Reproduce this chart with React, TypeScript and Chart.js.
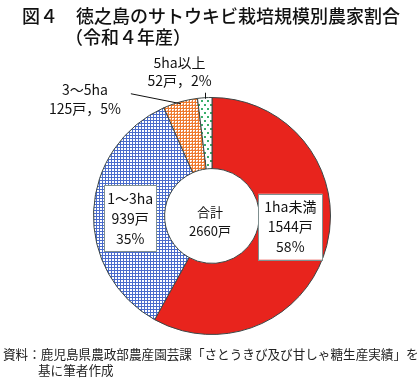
import React, { useEffect, useRef } from 'react';
import { Chart, registerables } from 'chart.js';
Chart.register(...registerables);

const categories = ['1ha未満', '1～3ha', '3～5ha', '5ha以上'];
const farms = [1544, 939, 125, 52];
const shares = ['58%', '35%', '5%', '2%'];
const totalLabel = '合計';
const totalValue = '2660戸';
const titleLines = ['図４　徳之島のサトウキビ栽培規模別農家割合', '（令和４年産）'];
const sourceLines = ['資料：鹿児島県農政部農産園芸課「さとうきび及び甘しゃ糖生産実績」を', '基に筆者作成'];

const JP = '"Noto Sans CJK JP", "Noto Sans", sans-serif';

function makePattern(kind: string): CanvasPattern | string {
  const c = document.createElement('canvas');
  const g = c.getContext('2d')!;
  if (kind === 'blue') {
    c.width = 3; c.height = 3;
    g.fillStyle = '#ffffff'; g.fillRect(0, 0, 3, 3);
    g.fillStyle = '#4a6ccc'; g.fillRect(0, 0, 3, 1); g.fillRect(0, 0, 1, 3);
  } else if (kind === 'orange') {
    c.width = 3; c.height = 3;
    g.fillStyle = '#ffffff'; g.fillRect(0, 0, 3, 3);
    g.fillStyle = '#ee7a2e';
    g.fillRect(0, 0, 3, 1); g.fillRect(0, 0, 1, 3);
    g.fillStyle = '#f6b088';
    g.fillRect(2, 2, 1, 1);
  } else {
    c.width = 6; c.height = 8;
    g.fillStyle = '#ffffff'; g.fillRect(0, 0, 6, 8);
    g.fillStyle = '#3aae6a';
    g.fillRect(0, 0, 2, 2); g.fillRect(3, 4, 2, 2);
  }
  return g.createPattern(c, 'repeat') as CanvasPattern;
}

const textPlugin = {
  id: 'textPlugin',
  afterDraw(chart: any) {
    const ctx = chart.ctx as CanvasRenderingContext2D;
    const meta = chart.getDatasetMeta(0);
    ctx.save();
    // title
    ctx.fillStyle = '#111';
    ctx.textBaseline = 'middle';
    ctx.textAlign = 'left';
    ctx.font = `500 18px ${JP}`;
    ctx.fillText(titleLines[0], 22, 16);
    ctx.fillText(titleLines[1], 65, 37);
    // source
    ctx.font = `12.6px ${JP}`;
    ctx.fillStyle = '#222';
    ctx.fillText(sourceLines[0], 3, 354);
    ctx.fillText(sourceLines[1], 38, 370);

    const arc0 = meta.data[0];
    const cx = arc0.x, cy = arc0.y;
    // center text
    ctx.textAlign = 'center';
    ctx.fillStyle = '#111';
    ctx.font = `13px ${JP}`;
    ctx.fillText(totalLabel, cx - 2, 212);
    ctx.fillText(totalValue, cx - 2, 231);

    const geom = (i: number) => {
      const el = meta.data[i];
      const mid = (el.startAngle + el.endAngle) / 2;
      return { el, mid, rIn: el.innerRadius, rOut: el.outerRadius };
    };

    // inside boxed labels
    const inside = [
      { i: 0, dx: -2, dy: -10, pad: 6 },
      { i: 1, dx: 1, dy: 6, pad: 3 },
    ];
    ctx.font = `14px ${JP}`;
    inside.forEach(({ i, dx, dy, pad }) => {
      const { mid, rIn, rOut } = geom(i);
      const r = (rIn + rOut) / 2;
      const x = cx + Math.cos(mid) * r + dx;
      const y = cy + Math.sin(mid) * r + dy;
      const lines = [categories[i], `${farms[i]}戸`, shares[i]];
      const w = Math.max(...lines.map((l) => ctx.measureText(l).width)) + pad * 2;
      const h = 66;
      ctx.fillStyle = '#ffffff';
      ctx.fillRect(x - w / 2, y - h / 2, w, h);
      ctx.strokeStyle = '#7f8f8f';
      ctx.lineWidth = 1;
      ctx.strokeRect(Math.round(x - w / 2) + 0.5, Math.round(y - h / 2) + 0.5, Math.round(w), h);
      ctx.fillStyle = '#111';
      lines.forEach((l, k) => ctx.fillText(l, x, y - 20 + k * 20));
    });

    // outside labels with leader lines
    ctx.strokeStyle = '#111';
    ctx.lineWidth = 1;
    {
      const { mid, rOut } = geom(2);
      const px = cx + Math.cos(mid) * (rOut - 2);
      const py = cy + Math.sin(mid) * (rOut - 2);
      ctx.beginPath();
      ctx.moveTo(px, py);
      ctx.lineTo(px - 50, py - 10);
      ctx.stroke();
      ctx.fillStyle = '#111';
      ctx.fillText(categories[2], px - 96, py - 14);
      ctx.fillText(`${farms[2]}戸，${shares[2]}`, px - 96, py + 5);
    }
    {
      const { mid, rOut } = geom(3);
      const px = Math.round(cx + Math.cos(mid) * rOut) + 0.5;
      const py = cy + Math.sin(mid) * rOut;
      ctx.beginPath();
      ctx.moveTo(px, py + 1);
      ctx.lineTo(px, py - 5);
      ctx.stroke();
      ctx.fillStyle = '#111';
      ctx.fillText(categories[3], px - 26, py - 35);
      ctx.fillText(`${farms[3]}戸，${shares[3]}`, px - 26, py - 17);
    }
    ctx.restore();
  },
};

export default function App() {
  const ref = useRef<HTMLCanvasElement>(null);
  useEffect(() => {
    document.body.style.margin = '0';
    const chart = new Chart(ref.current!, {
      type: 'doughnut',
      data: {
        labels: categories,
        datasets: [
          {
            data: farms,
            backgroundColor: ['#e8241d', makePattern('blue'), makePattern('orange'), makePattern('green')],
            borderColor: '#3c4646',
            borderWidth: 1,
          },
        ],
      },
      options: {
        animation: false,
        responsive: false,
        cutout: '40%',
        layout: { padding: { top: 97, bottom: 44, left: 93, right: 89 } },
        plugins: { legend: { display: false }, tooltip: { enabled: false }, title: { display: false } },
      },
      plugins: [textPlugin],
    });
    return () => chart.destroy();
  }, []);
  return (
    <div style={{ width: 420, height: 379, background: '#fff' }}>
      <canvas ref={ref} width={420} height={379} style={{ display: 'block' }} />
    </div>
  );
}
